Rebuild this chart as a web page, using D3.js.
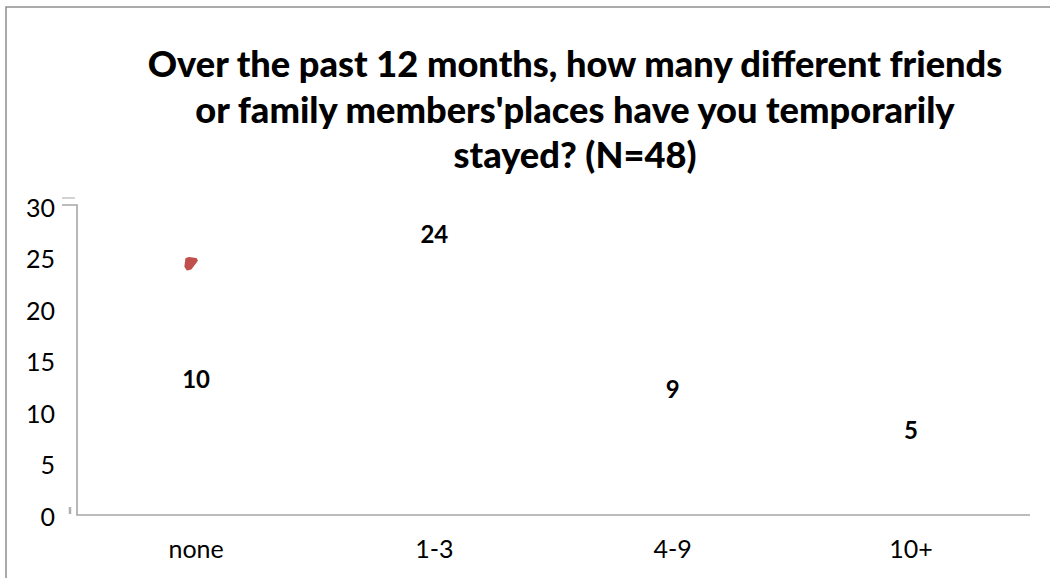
<!DOCTYPE html>
<html><head><meta charset="utf-8">
<script src="https://cdn.jsdelivr.net/npm/d3@7"></script>
<style>
html,body{margin:0;padding:0;background:#fff;}
svg{display:block;font-family:Lato,"Open Sans",sans-serif;}
</style></head>
<body>
<svg id="chart" width="1050" height="578"></svg>
<script>
// ---- data ----
const categories = ["none", "1-3", "4-9", "10+"];
const values = [10, 24, 9, 5];
const yTicks = [0, 5, 10, 15, 20, 25, 30];
const titleLines = [
  "Over the past 12 months, how many different friends",
  "or family members'places have you temporarily",
  "stayed? (N=48)"
];
const markerCategory = ["none"];
const markerValue = [24.5];

// ---- layout ----
const W = 1050, H = 578;
const plot = {left: 77, right: 1030, top: 207, bottom: 516};
const svg = d3.select("#chart");

// outer frame (left + top edges visible)
svg.append("path")
  .attr("d", `M6,${H} L6,7 L${W},7`)
  .attr("fill", "none").attr("stroke", "#8e8e8e").attr("stroke-width", 1.5);

const x = d3.scaleBand().domain(categories).range([plot.left, plot.right]);
const y = d3.scaleLinear().domain([0, 30]).range([plot.bottom, plot.top]);

// title
const title = svg.append("g");
titleLines.forEach((t, i) => {
  title.append("text")
    .attr("x", 575).attr("y", 77 + i * 45.5)
    .attr("text-anchor", "middle")
    .attr("font-weight", 900)
    .attr("font-size", 32)
    .attr("fill", "#000")
    .text(t);
});
// fit title font to the first line width
{
  const first = title.select("text").node();
  const w = first.getComputedTextLength();
  const fs = 32 * 855 / w;
  title.selectAll("text").attr("font-size", fs);
}

// y axis labels
const yAxis = d3.axisLeft(y).tickValues(yTicks).tickSize(0).tickPadding(22);
const gy = svg.append("g").attr("transform", `translate(${plot.left},0)`).call(yAxis);
gy.select(".domain").remove();
gy.selectAll("text").attr("font-size", 25).attr("font-family", "Lato, sans-serif").attr("fill", "#000").attr("dy", "0.36em");

// x axis
const xAxis = d3.axisBottom(x).tickSize(0).tickPadding(24);
const gx = svg.append("g").attr("transform", `translate(0,${plot.bottom})`).call(xAxis);
gx.select(".domain").remove();
gx.selectAll("text").attr("font-size", 25).attr("font-family", "Lato, sans-serif").attr("fill", "#000");

// axis lines
const axisColor = "#a6a6a6";
svg.append("path")
  .attr("d", `M${plot.left - 15},${y(30) - 2} L${plot.left},${y(30) - 2} L${plot.left},${y(0) - 1} L${plot.right},${y(0) - 1}`)
  .attr("fill", "none").attr("stroke", axisColor).attr("stroke-width", 1.6);
svg.append("line")
  .attr("x1", plot.left - 15).attr("x2", plot.left - 2)
  .attr("y1", y(30) - 9).attr("y2", y(30) - 9)
  .attr("stroke", "#c8c8c8").attr("stroke-width", 1.6);
svg.append("line")
  .attr("x1", plot.left - 7).attr("x2", plot.left - 7)
  .attr("y1", y(0) - 9).attr("y2", y(0) - 2)
  .attr("stroke", "#b0b0b0").attr("stroke-width", 2.5);

// data labels (bars themselves are not visible)
svg.append("g").selectAll("text")
  .data(categories.map((c, i) => ({c, v: values[i]})))
  .join("text")
  .attr("x", d => x(d.c) + x.bandwidth() / 2)
  .attr("y", d => y(d.v) - 34)
  .attr("dy", "0.36em")
  .attr("text-anchor", "middle")
  .attr("font-weight", "bold")
  .attr("font-size", 24)
  .attr("fill", "#000")
  .text(d => d.v);

// stray red marker
svg.append("g").selectAll("path")
  .data(markerCategory.map((c, i) => ({c, v: markerValue[i]})))
  .join("path")
  .attr("transform", d => `translate(${x(d.c) + x.bandwidth() / 2 - 5},${y(d.v)})`)
  .attr("d", "M-5,-5 L-2,-6 L5,-5 L6,-3 L0,5 L-4,6 L-6,3 Z")
  .attr("fill", "#c0504d")
  .attr("stroke", "#c0504d").attr("stroke-width", 1.5).attr("stroke-linejoin", "round");
</script>
</body></html>
